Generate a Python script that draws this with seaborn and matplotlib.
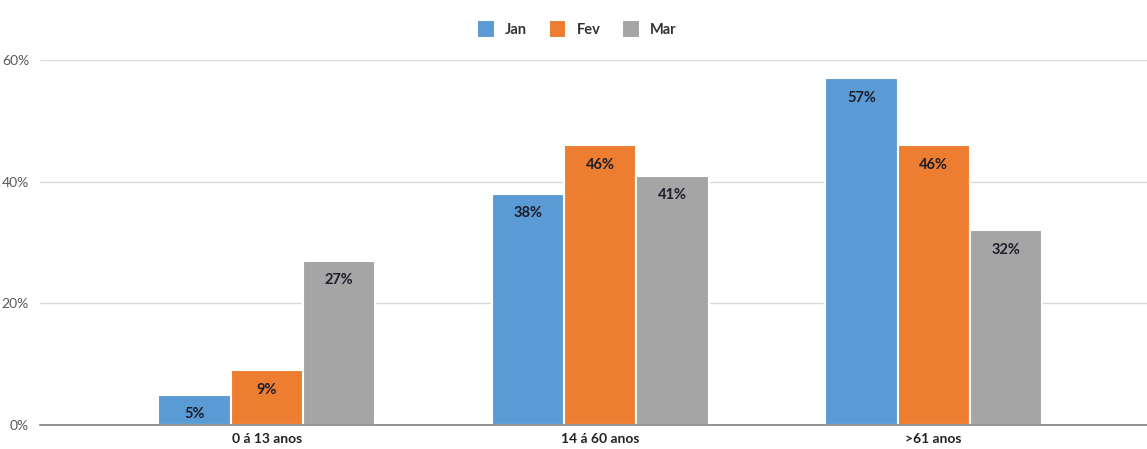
import numpy as np
import pandas as pd
import matplotlib
matplotlib.use('Agg')
import matplotlib.pyplot as plt
import seaborn as sns

# data
groups = ['0 á 13 anos', '14 á 60 anos', '>61 anos']
months = ['Jan', 'Fev', 'Mar']
jan = [5, 38, 57]
fev = [9, 46, 46]
mar = [27, 41, 32]
yticks = [0, 20, 40, 60]

colors = ['#5B9BD5', '#ED7D31', '#A5A5A5']

rows = []
for m, vals in zip(months, [jan, fev, mar]):
    for g, v in zip(groups, vals):
        rows.append({'grupo': g, 'mes': m, 'valor': v})
df = pd.DataFrame(rows)

sns.set_style('white')
plt.rcParams['font.family'] = ['Lato', 'DejaVu Sans']

fig = plt.figure(figsize=(11.47, 4.49), dpi=100)
ax = fig.add_axes([0.035, 0.0535, 0.965, 0.8129])

sns.barplot(data=df, x='grupo', y='valor', hue='mes', order=groups, hue_order=months,
            palette=colors, width=0.65, edgecolor='white', linewidth=1.5,
            saturation=1, ax=ax)

for cont in ax.containers:
    ax.bar_label(cont, labels=[f'{int(v)}%' for v in cont.datavalues],
                 padding=-19, fontsize=10.5, fontweight='bold', color='#1c1c2a')

ax.set_ylim(0, 60)
ax.set_xlim(-0.68, 2.64)
ax.set_yticks(yticks)
ax.set_yticklabels([f'{t}%' for t in yticks], color='#595959', fontsize=10)
ax.tick_params(axis='x', labelsize=10, length=0, pad=6)
ax.tick_params(axis='y', length=0, pad=8)
for lbl in ax.get_xticklabels():
    lbl.set_fontweight('bold')
    lbl.set_color('#222222')
ax.set_xlabel('')
ax.set_ylabel('')

ax.grid(axis='y', color='#d9d9d9', linewidth=1)
ax.set_axisbelow(True)
for s in ['top', 'right', 'left']:
    ax.spines[s].set_visible(False)
ax.spines['bottom'].set_color('#7f7f7f')
ax.spines['bottom'].set_linewidth(1.2)

leg = ax.legend(loc='lower center', bbox_to_anchor=(0.485, 1.025), ncol=3, frameon=False,
                handlelength=1.2, handleheight=1.5, handletextpad=0.7, columnspacing=1.5,
                fontsize=10.5)
for t in leg.get_texts():
    t.set_fontweight('bold')
    t.set_color('#333333')

fig.savefig('out.png', dpi=100)
